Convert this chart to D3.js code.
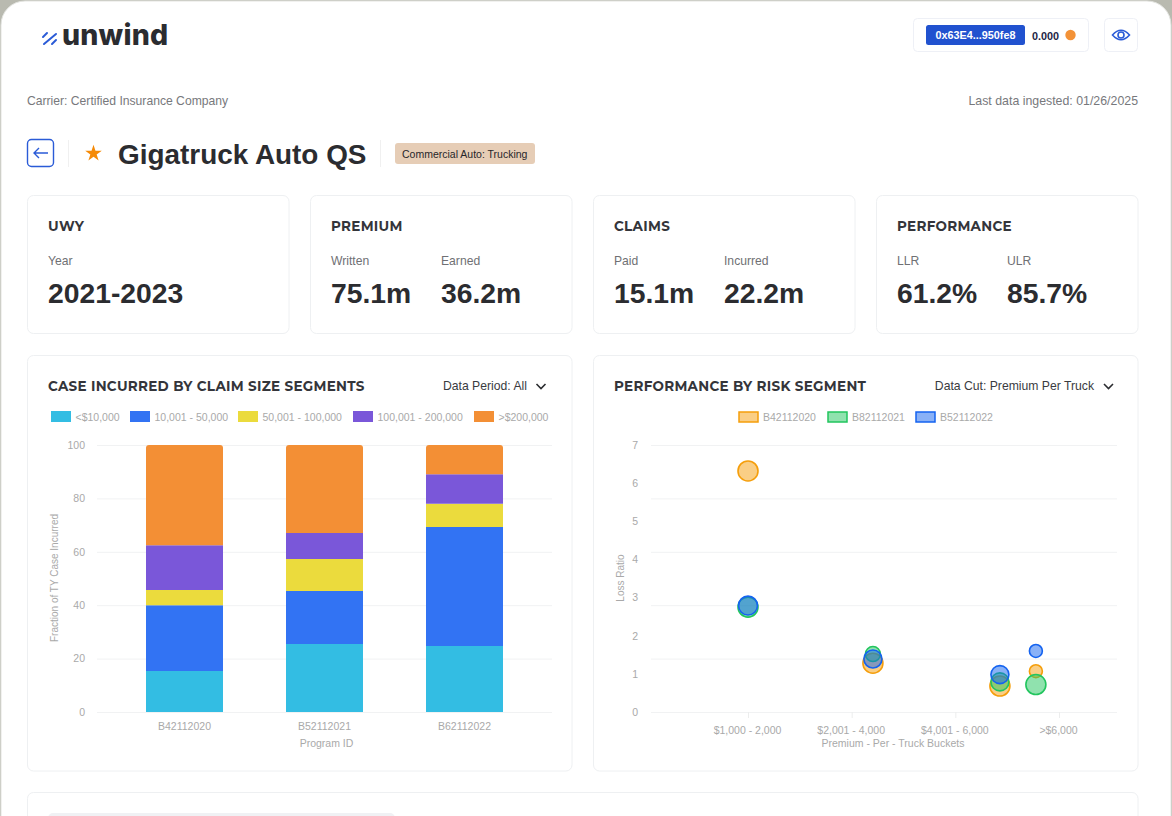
<!DOCTYPE html>
<html><head><meta charset="utf-8">
<script src="https://cdn.jsdelivr.net/npm/d3@7"></script>
<style>
html,body{margin:0;padding:0;background:#b9bab0;overflow:hidden}
svg{display:block}
text{font-family:"Liberation Sans",Inter,sans-serif}
.domain{display:none}
</style></head><body>
<svg id="c" width="1172" height="816"></svg>
<script>
// ---- data ----
const programs = ["B42112020","B52112021","B62112022"];
const segments = ["<$10,000","10,001 - 50,000","50,001 - 100,000","100,001 - 200,000",">$200,000"];
const under10k = [15.4,25.5,24.7];
const from10kTo50k = [24.6,19.8,44.6];
const from50kTo100k = [5.7,12.0,8.7];
const from100kTo200k = [16.8,9.7,11.0];
const over200k = [37.5,33.0,11.0];
const yTicksLeft = [0,20,40,60,80,100];
const yTicksRight = [0,1,2,3,4,5,6,7];
const buckets = ["$1,000 - 2,000","$2,001 - 4,000","$4,001 - 6,000",">$6,000"];
const riskPrograms = ["B42112020","B82112021","B52112022"];
const riskX = [0,1.205,2.43,2.777];
const lossB42 = [6.32,1.28,0.68,1.07];
const lossB82 = [2.75,1.52,0.79,0.72];
const lossB52 = [2.79,1.39,0.98,1.60];
const sizeB42 = [100,100,100,42];
const sizeB82 = [100,56,81,100];
const sizeB52 = [90,81,81,42];
const kpis = [
 {t:"UWY",items:[["Year","2021-2023"]]},
 {t:"PREMIUM",items:[["Written","75.1m"],["Earned","36.2m"]]},
 {t:"CLAIMS",items:[["Paid","15.1m"],["Incurred","22.2m"]]},
 {t:"PERFORMANCE",items:[["LLR","61.2%"],["ULR","85.7%"]]}
];

const svg = d3.select("#c");
const BORDER="#eef0f2", MUTED="#a9a9a9", DARK="#2b2c30", HEAD="#34353a";
const TITLE='Montserrat,"Open Sans",Inter,sans-serif';

function txt(g,x,y,s,size,fill,weight,anchor){
  return g.append("text").attr("x",x).attr("y",y).text(s).attr("font-size",size)
   .attr("fill",fill).attr("font-weight",weight||400).attr("text-anchor",anchor||"start");
}
function heading(x,y,s,spacing){
  return txt(svg,x,y,s,13.5,HEAD,700).style("font-family",TITLE).style("letter-spacing",spacing+"px");
}
function card(x,y,w,h){
  svg.append("rect").attr("x",x+.5).attr("y",y+.5).attr("width",w).attr("height",h).attr("rx",6)
   .attr("fill","#fff").attr("stroke",BORDER);
}
function chevron(x,y){
  svg.append("path").attr("d",`M${x} ${y}l4.5 4.5l4.5 -4.5`).attr("fill","none").attr("stroke","#2b2c30").attr("stroke-width",1.6);
}

// panel
svg.append("rect").attr("x",1).attr("y",1).attr("width",1170).attr("height",900).attr("rx",24).attr("fill","#fff").attr("stroke","#e3e4e0");

// logo
const logo=svg.append("g").attr("stroke","#2a5bd7").attr("stroke-width",2).attr("stroke-linecap","round");
logo.append("line").attr("x1",44).attr("y1",44).attr("x2",56).attr("y2",34);
logo.append("line").attr("x1",43).attr("y1",37).attr("x2",47).attr("y2",33);
logo.append("line").attr("x1",52).attr("y1",44).attr("x2",56).attr("y2",40);
txt(svg,62,45,"unwind",28.5,"#2b2c30",800).style("font-family","Inter").style("letter-spacing","0.2px");

// wallet
svg.append("rect").attr("x",913.5).attr("y",18.5).attr("width",175).attr("height",33).attr("rx",4).attr("fill","#fff").attr("stroke","#eef0f6");
svg.append("rect").attr("x",926).attr("y",25).attr("width",99).attr("height",20).attr("rx",2.5).attr("fill","#2152cf");
txt(svg,975.5,39,"0x63E4...950fe8",10.8,"#fff",700,"middle");
txt(svg,1032,40,"0.000",10.8,"#1d2545",700);
svg.append("circle").attr("cx",1070.5).attr("cy",35).attr("r",5.2).attr("fill","#f39237");
svg.append("rect").attr("x",1104.5).attr("y",18.5).attr("width",33).attr("height",33).attr("rx",4).attr("fill","#fff").attr("stroke","#eef0f6");
svg.append("path").attr("d","M1112.5 35Q1121 25.5 1129.5 35Q1121 44.5 1112.5 35Z").attr("fill","none").attr("stroke","#2a5bd7").attr("stroke-width",1.6);
svg.append("circle").attr("cx",1121).attr("cy",35).attr("r",3).attr("fill","none").attr("stroke","#2a5bd7").attr("stroke-width",1.6);

txt(svg,27,105,"Carrier: Certified Insurance Company",12.15,"#77787c");
txt(svg,1138,105,"Last data ingested: 01/26/2025",12.35,"#77787c",400,"end");

// header row
svg.append("rect").attr("x",27.5).attr("y",139.5).attr("width",26).attr("height",27).attr("rx",4).attr("fill","#fff").attr("stroke","#2a5bd7").attr("stroke-width",1.4);
svg.append("path").attr("d","M48 153H34M39 148L34 153L39 158").attr("fill","none").attr("stroke","#2a5bd7").attr("stroke-width",1.4);
svg.append("line").attr("x1",68.5).attr("x2",68.5).attr("y1",140).attr("y2",167).attr("stroke","#f0f0f0");
svg.append("line").attr("x1",380.5).attr("x2",380.5).attr("y1",140).attr("y2",167).attr("stroke","#f0f0f0");
svg.append("path").attr("d",d3.symbol(d3.symbolStar,85)()).attr("transform","translate(93.5,153.5)").attr("fill","#f58a07");
txt(svg,118,164,"Gigatruck Auto QS",27.9,DARK,700);
svg.append("rect").attr("x",395).attr("y",143).attr("width",140).attr("height",21).attr("rx",3).attr("fill","#e6cdb6");
txt(svg,402,157.5,"Commercial Auto: Trucking",10.5,"#26262a");

// KPI cards
const cardX=[27,310,593,876];
kpis.forEach((k,i)=>{
  const x=cardX[i];
  card(x,195,261.5,138);
  heading(x+21,231,k.t,.3);
  k.items.forEach((it,j)=>{
    const ix=x+21+j*110;
    txt(svg,ix,265,it[0],12.15,"#6f7074");
    txt(svg,ix,303,it[1],28.3,DARK,700);
  });
});

// chart cards
card(27,355,544.5,415.5);
card(593,355,544.5,415.5);
card(27,792,1110.5,60);
svg.append("rect").attr("x",48).attr("y",813).attr("width",347).attr("height",12).attr("rx",5).attr("fill","#f0f1f4");

heading(48,391,"CASE INCURRED BY CLAIM SIZE SEGMENTS",.3);
txt(svg,527,390,"Data Period: All",12.2,"#3a3b3f",400,"end");
chevron(536.5,384);
heading(614,391,"PERFORMANCE BY RISK SEGMENT",.3);
txt(svg,1094,390,"Data Cut: Premium Per Truck",12.2,"#3a3b3f",400,"end");
chevron(1104,384);

// ---- stacked bars ----
const segColors=["#33bde3","#3273f3","#ebdb3d","#7a57d9","#f38f35"];
const rows=programs.map((p,i)=>({p,[segments[0]]:under10k[i],[segments[1]]:from10kTo50k[i],[segments[2]]:from50kTo100k[i],[segments[3]]:from100kTo200k[i],[segments[4]]:over200k[i]}));
const stack=d3.stack().keys(segments)(rows);
const xB=d3.scaleBand().domain(programs).range([114.5,534.5]).paddingInner(.45).paddingOuter(.225);
const yB=d3.scaleLinear().domain([0,100]).range([712,445]);

function styleAxis(g){
  g.selectAll(".tick line").attr("stroke","#f1f2f3");
  g.selectAll(".tick text").attr("fill",MUTED).attr("font-size",10.5).style("font-family","Liberation Sans");
  g.select(".domain").remove();
}
const gridL=svg.append("g").attr("transform","translate(97,0)")
 .call(d3.axisLeft(yB).tickValues(yTicksLeft).tickSize(-455).tickPadding(12).tickFormat(d3.format("d")));
styleAxis(gridL);
const layers=svg.append("g").selectAll("g").data(stack).join("g").attr("fill",(d,i)=>segColors[i]);
layers.selectAll("path").data(d=>d.map(v=>({v,top:d.key===segments[4]}))).join("path")
 .attr("d",d=>{
   const x0=xB(d.v.data.p),w=xB.bandwidth(),y0=yB(d.v[0]),y1=yB(d.v[1]),r=d.top?3:0;
   return `M${x0} ${y0}V${y1+r}Q${x0} ${y1} ${x0+r} ${y1}H${x0+w-r}Q${x0+w} ${y1} ${x0+w} ${y1+r}V${y0}Z`;
 });
const axB=svg.append("g").attr("transform","translate(0,712)").call(d3.axisBottom(xB).tickSize(0).tickPadding(11));
styleAxis(axB);
txt(svg,326.5,747,"Program ID",10.5,MUTED,400,"middle");
svg.append("text").attr("transform","translate(58,578) rotate(-90)").attr("text-anchor","middle").attr("font-size",10).attr("fill",MUTED).text("Fraction of TY Case Incurred");

// legend left
const legX=[51,130,238,353,474];
segments.forEach((s,i)=>{
  svg.append("rect").attr("x",legX[i]).attr("y",411).attr("width",20).attr("height",11).attr("fill",segColors[i]);
  txt(svg,legX[i]+24.5,421,s,10.5,MUTED);
});

// ---- bubbles ----
const yL=d3.scaleLinear().domain([0,7]).range([712,445]);
const xPos=d3.scaleLinear().domain([0,3]).range([748,1059]);
const xPt=d3.scalePoint().domain(buckets).range([748,1059]);
const rS=d3.scaleSqrt().domain([0,100]).range([0,10]);

const gridR=svg.append("g").attr("transform","translate(651,0)")
 .call(d3.axisLeft(yB).tickValues(yTicksLeft).tickSize(-466).tickFormat(""));
styleAxis(gridR);
const axYR=svg.append("g").attr("transform","translate(651,0)")
 .call(d3.axisLeft(yL).tickValues(yTicksRight).tickSize(0).tickPadding(13).tickFormat(d3.format("d")));
styleAxis(axYR);
const axXR=svg.append("g").attr("transform","translate(-1,712)")
 .call(d3.axisBottom(xPt).tickSize(6).tickPadding(9));
styleAxis(axXR);
axXR.selectAll(".tick line").attr("stroke","#eceded").attr("x1",1).attr("x2",1);
txt(svg,893,747,"Premium - Per - Truck Buckets",10.5,MUTED,400,"middle");
svg.append("text").attr("transform","translate(624,578) rotate(-90)").attr("text-anchor","middle").attr("font-size",10).attr("fill",MUTED).text("Loss Ratio");

const strokes=["#f59e0b","#22c55e","#1463f0"];
const fills=["rgba(245,158,11,.5)","rgba(34,197,94,.5)","rgba(20,99,240,.5)"];
const lossSeries=[lossB42,lossB82,lossB52], sizeSeries=[sizeB42,sizeB82,sizeB52];
const legR=[738,827,915];
riskPrograms.forEach((s,i)=>{
  svg.append("rect").attr("x",legR[i]+1).attr("y",412).attr("width",19).attr("height",10).attr("fill",fills[i]).attr("stroke",strokes[i]).attr("stroke-width",1.5);
  txt(svg,legR[i]+25,421,s,10.5,MUTED);
  svg.append("g").selectAll("circle").data(lossSeries[i]).join("circle")
   .attr("cx",(d,j)=>xPos(riskX[j])).attr("cy",d=>yL(d)).attr("r",(d,j)=>rS(sizeSeries[i][j]))
   .attr("fill",fills[i]).attr("stroke",strokes[i]).attr("stroke-width",1.6);
});
</script>
</body></html>
